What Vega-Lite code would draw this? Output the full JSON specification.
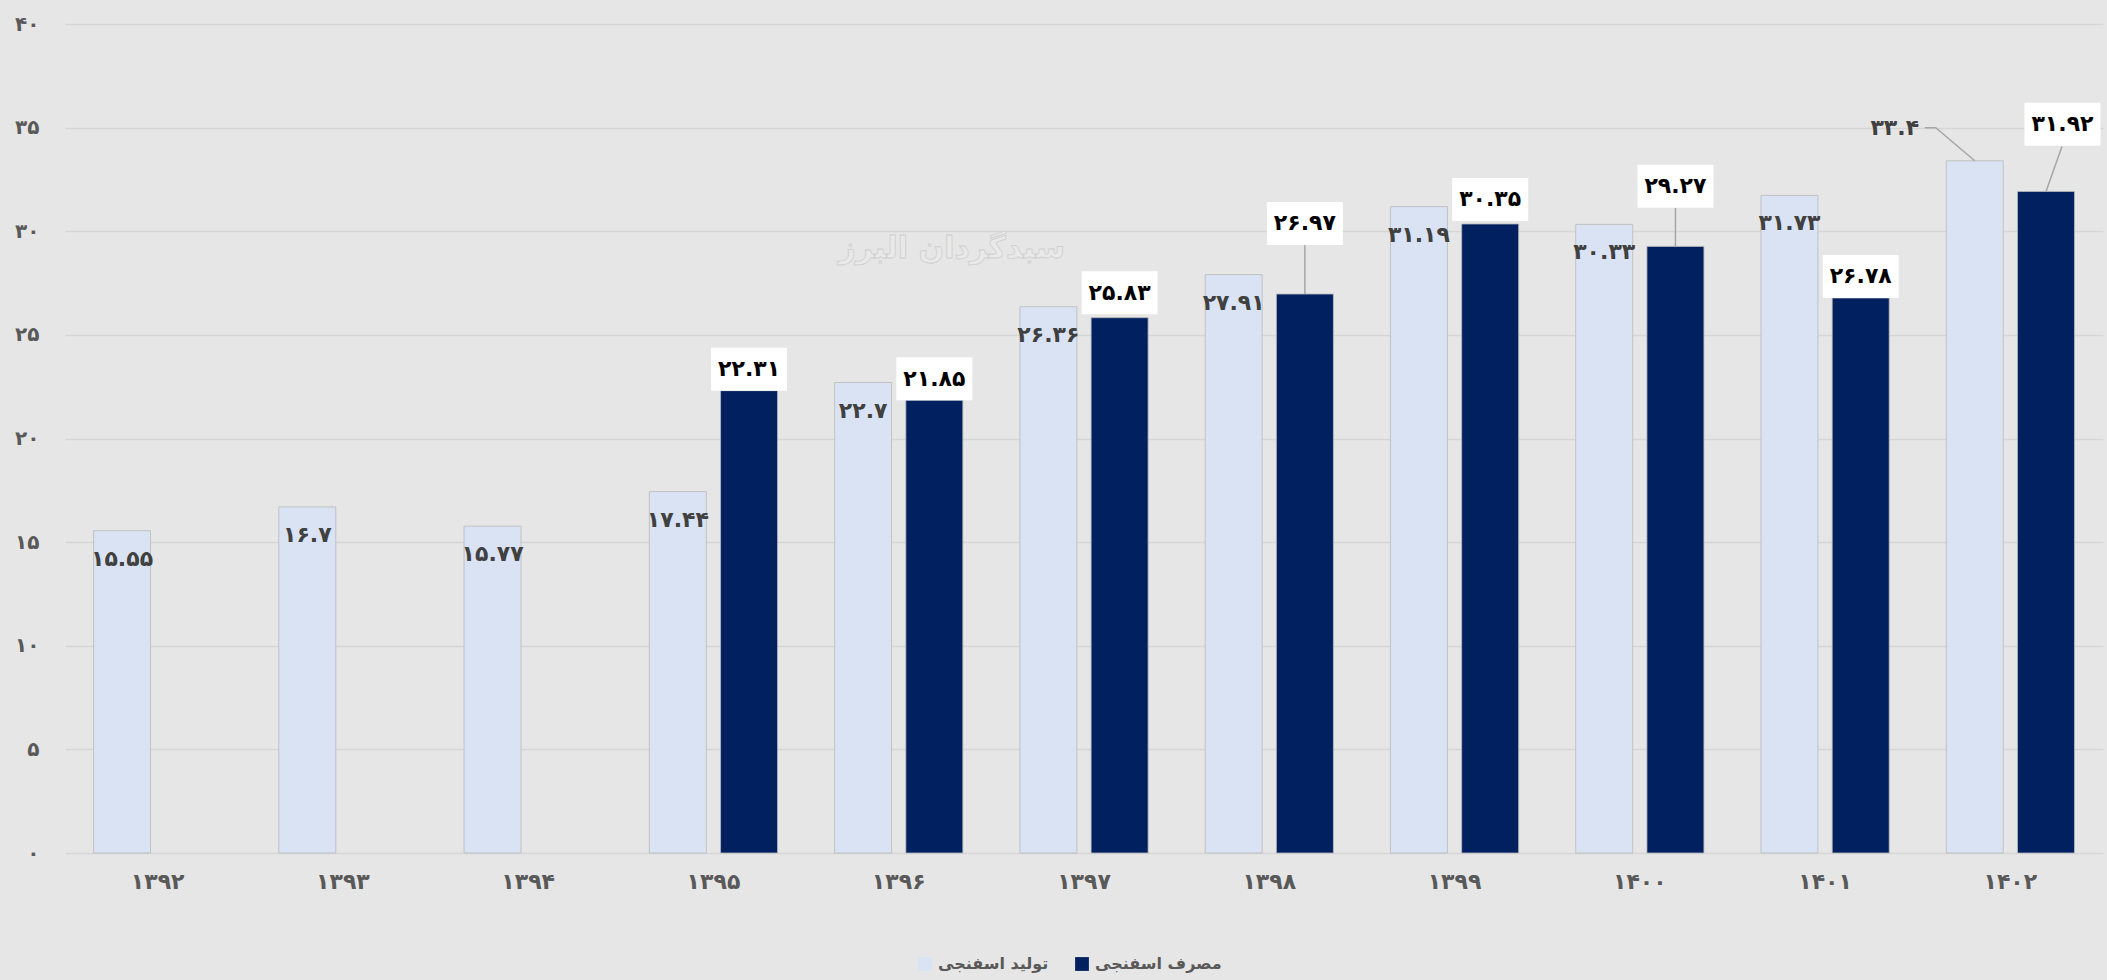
{
  "$schema": "https://vega.github.io/schema/vega-lite/v6.json",
  "width": 2038,
  "height": 829,
  "autosize": {"type": "none"},
  "padding": {"left": 65, "top": 24, "right": 4, "bottom": 127},
  "background": "#e6e6e6",
  "config": {
    "locale": {"number": {"decimal": ".", "thousands": ",", "grouping": [3], "currency": ["", ""], "numerals": ["۰","۱","۲","۳","۴","۵","۶","۷","۸","۹"]}},
    "view": {"stroke": null},
    "font": "DejaVu Sans"
  },
  "datasets": {
    "bars": [
      {"year": "۱۳۹۲", "series": "تولید اسفنجی", "value": 15.55, "label_at": 15.55},
      {"year": "۱۳۹۳", "series": "تولید اسفنجی", "value": 16.7, "label_at": 16.7},
      {"year": "۱۳۹۴", "series": "تولید اسفنجی", "value": 15.77, "label_at": 15.77},
      {"year": "۱۳۹۵", "series": "تولید اسفنجی", "value": 17.44, "label_at": 17.44},
      {"year": "۱۳۹۶", "series": "تولید اسفنجی", "value": 22.7, "label_at": 22.7},
      {"year": "۱۳۹۷", "series": "تولید اسفنجی", "value": 26.36, "label_at": 26.36},
      {"year": "۱۳۹۸", "series": "تولید اسفنجی", "value": 27.91, "label_at": 27.91},
      {"year": "۱۳۹۹", "series": "تولید اسفنجی", "value": 31.19, "label_at": 31.19},
      {"year": "۱۴۰۰", "series": "تولید اسفنجی", "value": 30.33, "label_at": 30.33},
      {"year": "۱۴۰۱", "series": "تولید اسفنجی", "value": 31.73, "label_at": 31.73},
      {"year": "۱۴۰۲", "series": "تولید اسفنجی", "value": 33.4, "label_at": 35.0},
      {"year": "۱۳۹۵", "series": "مصرف اسفنجی", "value": 22.31, "label_at": 22.31},
      {"year": "۱۳۹۶", "series": "مصرف اسفنجی", "value": 21.85, "label_at": 21.85},
      {"year": "۱۳۹۷", "series": "مصرف اسفنجی", "value": 25.83, "label_at": 26.0},
      {"year": "۱۳۹۸", "series": "مصرف اسفنجی", "value": 26.97, "label_at": 29.34},
      {"year": "۱۳۹۹", "series": "مصرف اسفنجی", "value": 30.35, "label_at": 30.5},
      {"year": "۱۴۰۰", "series": "مصرف اسفنجی", "value": 29.27, "label_at": 31.13},
      {"year": "۱۴۰۱", "series": "مصرف اسفنجی", "value": 26.78, "label_at": 26.78},
      {"year": "۱۴۰۲", "series": "مصرف اسفنجی", "value": 31.92, "label_at": 34.12}
    ],
    "mark": [
      {"year": "۱۳۹۶", "v": 29.15, "t": "سبدگردان البرز"}
    ]
  },
  "layer": [
    {
      "data": {"name": "bars"},
      "encoding": {
        "x": {
          "field": "year", "type": "nominal",
          "scale": {"paddingInner": 0.308, "paddingOuter": 0.154},
          "axis": {"title": null, "labelAngle": 0, "ticks": false, "domain": false, "grid": false, "labelFontSize": 22, "labelColor": "#595959", "labelPadding": 18, "labelFontWeight": "bold"}
        },
        "xOffset": {
          "field": "series", "type": "nominal",
          "sort": ["تولید اسفنجی", "مصرف اسفنجی"],
          "scale": {"paddingInner": 0.2, "paddingOuter": 0}
        }
      },
      "layer": [
        {
          "mark": {"type": "bar", "stroke": "#b9b9b9", "strokeWidth": 0.8},
          "encoding": {
            "y": {
              "field": "value", "type": "quantitative",
              "scale": {"domain": [0, 40]},
              "axis": {"title": null, "values": [0, 5, 10, 15, 20, 25, 30, 35, 40], "format": "d", "ticks": false, "domain": false, "gridColor": "#d6d6d6", "gridWidth": 1.5, "labelFontSize": 20, "labelColor": "#595959", "labelPadding": 26, "labelFontWeight": "bold"}
            },
            "color": {
              "field": "series", "type": "nominal",
              "scale": {"domain": ["تولید اسفنجی", "مصرف اسفنجی"], "range": ["#dae3f3", "#002060"]},
              "legend": {"title": null, "orient": "none", "legendX": 852, "legendY": 932, "direction": "horizontal", "symbolType": "square", "symbolSize": 190, "symbolStrokeWidth": 0, "labelFontSize": 16, "labelFontWeight": "bold", "labelColor": "#595959", "columnPadding": 25, "labelOffset": 5}
            }
          }
        },
        {
          "transform": [{"filter": "datum.series == 'مصرف اسفنجی' && datum.label_at > datum.value + 0.3 && datum.year != '۱۴۰۲'"}],
          "mark": {"type": "rule", "color": "#a6a6a6", "strokeWidth": 1.5},
          "encoding": {
            "y": {"field": "value", "type": "quantitative"},
            "y2": {"field": "label_at"}
          }
        },
        {
          "transform": [{"filter": "datum.series == 'مصرف اسفنجی' && datum.year == '۱۴۰۲'"}],
          "mark": {"type": "point", "shape": "M0,0L16,-45", "size": 4, "filled": false, "stroke": "#a6a6a6", "strokeWidth": 1.5, "opacity": 1},
          "encoding": {
            "y": {"field": "value", "type": "quantitative"}
          }
        },
        {
          "transform": [{"filter": "datum.series == 'تولید اسفنجی' && datum.year == '۱۴۰۲'"}],
          "mark": {"type": "point", "shape": "M0,0L-39,-33L-50,-33", "size": 4, "filled": false, "stroke": "#a6a6a6", "strokeWidth": 1.5, "opacity": 1},
          "encoding": {
            "y": {"field": "value", "type": "quantitative"}
          }
        },
        {
          "transform": [{"filter": "datum.series == 'مصرف اسفنجی' && datum.year != '۱۴۰۲'"}],
          "mark": {"type": "point", "shape": "M-38,-43L38,-43L38,0L-38,0Z", "size": 4, "filled": true, "fill": "#ffffff", "opacity": 1, "strokeWidth": 0},
          "encoding": {
            "y": {"field": "label_at", "type": "quantitative"}
          }
        },
        {
          "transform": [{"filter": "datum.series == 'مصرف اسفنجی' && datum.year == '۱۴۰۲'"}],
          "mark": {"type": "point", "shape": "M-21.5,-43L54.5,-43L54.5,0L-21.5,0Z", "size": 4, "filled": true, "fill": "#ffffff", "opacity": 1, "strokeWidth": 0},
          "encoding": {
            "y": {"field": "label_at", "type": "quantitative"}
          }
        },
        {
          "transform": [{"filter": "datum.series == 'مصرف اسفنجی' && datum.year != '۱۴۰۲'"}],
          "mark": {"type": "text", "fontSize": 22, "fontWeight": "bold", "color": "#000000", "baseline": "middle", "align": "center", "dy": -21.5},
          "encoding": {
            "y": {"field": "label_at", "type": "quantitative"},
            "text": {"field": "value", "type": "quantitative", "format": ".2~f"}
          }
        },
        {
          "transform": [{"filter": "datum.series == 'مصرف اسفنجی' && datum.year == '۱۴۰۲'"}],
          "mark": {"type": "text", "fontSize": 22, "fontWeight": "bold", "color": "#000000", "baseline": "middle", "align": "center", "dy": -21.5, "dx": 16.5},
          "encoding": {
            "y": {"field": "label_at", "type": "quantitative"},
            "text": {"field": "value", "type": "quantitative", "format": ".2~f"}
          }
        },
        {
          "transform": [{"filter": "datum.series == 'تولید اسفنجی' && datum.label_at == datum.value"}],
          "mark": {"type": "text", "fontSize": 22, "fontWeight": "bold", "color": "#404040", "baseline": "middle", "align": "center", "dy": 28},
          "encoding": {
            "y": {"field": "value", "type": "quantitative"},
            "text": {"field": "value", "type": "quantitative", "format": ".2~f"}
          }
        },
        {
          "transform": [{"filter": "datum.series == 'تولید اسفنجی' && datum.label_at > datum.value"}],
          "mark": {"type": "text", "fontSize": 22, "fontWeight": "bold", "color": "#404040", "baseline": "middle", "align": "center", "dx": -80},
          "encoding": {
            "y": {"field": "label_at", "type": "quantitative"},
            "text": {"field": "value", "type": "quantitative", "format": ".2~f"}
          }
        }
      ]
    },
    {
      "data": {"name": "mark"},
      "mark": {"type": "text", "fontSize": 30, "fontWeight": "bold", "fill": "#e9e9e9", "stroke": "#cfcfcf", "strokeWidth": 0.8, "baseline": "middle", "align": "center", "dx": 53},
      "encoding": {
        "x": {"field": "year", "type": "nominal"},
        "y": {"field": "v", "type": "quantitative"},
        "text": {"field": "t"}
      }
    }
  ]
}
